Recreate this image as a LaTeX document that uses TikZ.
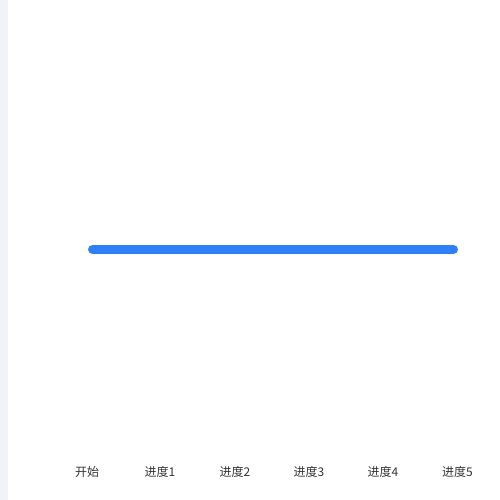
\documentclass[tikz,border=0pt]{standalone}
\usepackage{fontspec}
\newfontfamily\cjk{Noto Sans CJK SC}
\definecolor{strip}{HTML}{F2F3F8}
\definecolor{barblue}{HTML}{2F80F8}
\definecolor{lbl}{HTML}{333333}
\begin{document}
\begin{tikzpicture}[x=1pt,y=1pt,
  lab/.style={font=\cjk\fontsize{12}{14}\selectfont, text=lbl, inner sep=0pt, anchor=center},
  barline/.style={line width=9.5pt, line cap=round, draw=barblue}]
\useasboundingbox (0,0) rectangle (500,500);
\fill[white] (0,0) rectangle (500,500);
\fill[strip] (0,0) rectangle (8,500);
\coordinate (b0) at (92.75,250.5);
\coordinate (b1) at (453.25,250.5);
\draw[barline] (b0) -- (b1);
\node[lab] (l0) at (87,28) {开始};
\node[lab] (l1) at (160,28) {进度1};
\node[lab] (l2) at (235,28) {进度2};
\node[lab] (l3) at (309,28) {进度3};
\node[lab] (l4) at (383,28) {进度4};
\node[lab] (l5) at (457.5,28) {进度5};
\end{tikzpicture}
\end{document}
